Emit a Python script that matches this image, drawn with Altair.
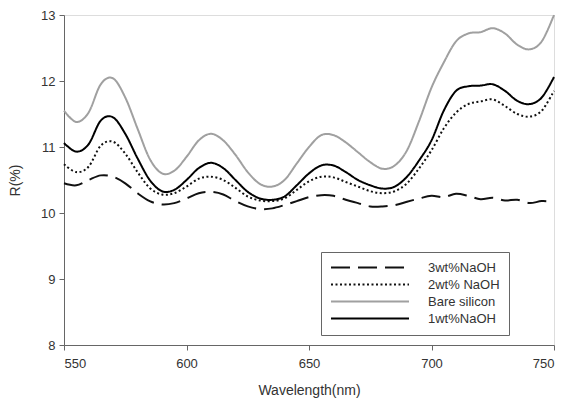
import altair as alt
import pandas as pd

wavelength = [550, 555, 560, 565, 570, 575, 580, 585, 590, 595, 600, 605, 610, 615, 620, 625, 630, 635, 640, 645,
              650, 655, 660, 665, 670, 675, 680, 685, 690, 695, 700, 705, 710, 715, 720, 725, 730, 735, 740, 745, 750]

bare_silicon = [11.55, 11.38, 11.52, 11.95, 12.04, 11.75, 11.28, 10.82, 10.60, 10.64, 10.85, 11.10, 11.20, 11.10, 10.88,
                10.62, 10.44, 10.40, 10.50, 10.75, 11.00, 11.18, 11.18, 11.07, 10.92, 10.77, 10.67, 10.72, 10.95, 11.40,
                11.90, 12.28, 12.60, 12.72, 12.74, 12.80, 12.72, 12.55, 12.48, 12.60, 13.00]

wt1 = [11.06, 10.93, 11.04, 11.40, 11.45, 11.20, 10.83, 10.50, 10.33, 10.35, 10.50, 10.68, 10.76, 10.68, 10.50,
       10.32, 10.22, 10.20, 10.25, 10.42, 10.60, 10.72, 10.72, 10.62, 10.50, 10.42, 10.37, 10.40, 10.55, 10.80,
       11.10, 11.55, 11.85, 11.92, 11.93, 11.95, 11.85, 11.70, 11.65, 11.75, 12.06]

wt2 = [10.74, 10.62, 10.70, 11.02, 11.08, 10.90, 10.62, 10.38, 10.28, 10.30, 10.40, 10.52, 10.55, 10.50, 10.38,
       10.25, 10.19, 10.18, 10.22, 10.35, 10.48, 10.55, 10.54, 10.47, 10.40, 10.33, 10.30, 10.33, 10.45, 10.68,
       10.95, 11.28, 11.52, 11.65, 11.69, 11.72, 11.62, 11.50, 11.46, 11.55, 11.85]

wt3 = [10.45, 10.42, 10.50, 10.57, 10.55, 10.45, 10.30, 10.18, 10.13, 10.15, 10.22, 10.30, 10.32, 10.28, 10.18,
       10.10, 10.06, 10.07, 10.12, 10.18, 10.24, 10.27, 10.26, 10.20, 10.15, 10.10, 10.10, 10.12, 10.17, 10.22,
       10.26, 10.24, 10.29, 10.26, 10.21, 10.23, 10.19, 10.20, 10.15, 10.18, 10.17]

series_names = ["3wt%NaOH", "2wt% NaOH", "Bare silicon", "1wt%NaOH"]
series_values = [wt3, wt2, bare_silicon, wt1]
series_colors = ["#111111", "#111111", "#a0a0a0", "#000000"]
series_dashes = [[19, 8], [2, 2.5], [1, 0], [1, 0]]

rows = []
for name, vals in zip(series_names, series_values):
    for w, v in zip(wavelength, vals):
        rows.append({"Wavelength": w, "R": v, "Series": name})
df = pd.DataFrame(rows)

font = "Liberation Sans"

legend = alt.Legend(title=None, orient="none", legendX=257, legendY=237,
                    symbolType="stroke", symbolSize=6084, symbolStrokeWidth=2,
                    clipHeight=13, labelFont=font, labelFontSize=13, labelColor="#333333",
                    rowPadding=3, labelOffset=18, padding=9,
                    strokeColor="#666666", fillColor="white")

chart = alt.Chart(df).mark_line(strokeWidth=2, interpolate="cardinal").encode(
    x=alt.X("Wavelength:Q", scale=alt.Scale(domain=[550, 750], nice=False),
            axis=alt.Axis(values=[550, 600, 650, 700, 750], title="Wavelength(nm)", grid=False,
                          labelFontSize=13, titleFontSize=14, labelFont=font, titleFont=font,
                          titleFontWeight="normal",
                          labelColor="#333333", titleColor="#333333", domainColor="#666666",
                          tickColor="#666666", tickSize=5, labelPadding=7, titlePadding=13)),
    y=alt.Y("R:Q", scale=alt.Scale(domain=[8, 13], nice=False),
            axis=alt.Axis(values=[8, 9, 10, 11, 12, 13], title="R(%)", grid=False,
                          labelFontSize=13, titleFontSize=14, labelFont=font, titleFont=font,
                          titleFontWeight="normal",
                          labelColor="#333333", titleColor="#333333", domainColor="#666666",
                          tickColor="#666666", tickSize=5, labelPadding=4, titlePadding=18)),
    color=alt.Color("Series:N", scale=alt.Scale(domain=series_names, range=series_colors),
                    sort=series_names, legend=legend),
    strokeDash=alt.StrokeDash("Series:N", scale=alt.Scale(domain=series_names, range=series_dashes),
                              sort=series_names, legend=legend),
    order=alt.Order("Wavelength:Q"),
).properties(
    width=490, height=330,
    autosize=alt.AutoSizeParams(type="none"),
    padding={"left": 56, "top": 7, "right": 4, "bottom": 56},
).configure_view(
    stroke="#666666", strokeWidth=1
).configure(background="white")

chart.save("out.html", embed_options={"renderer": "svg", "actions": False})
